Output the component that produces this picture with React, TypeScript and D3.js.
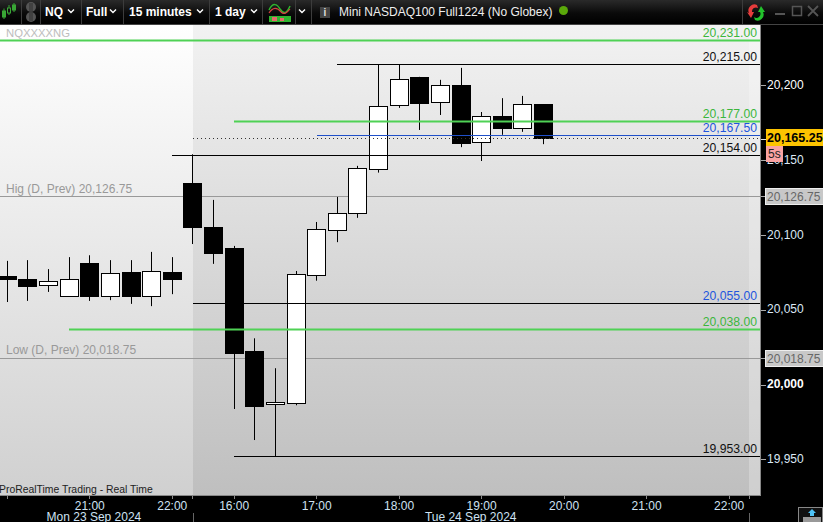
import React from "react";
import * as d3 from "d3";

const W = 823, H = 522;
const plot = { left: 0, right: 760, top: 25, bottom: 495 };

const opens = [20073.5,20071,20067,20060.25,20081.75,20060.25,20075.75,20060.25,20076,20135.75,20105.75,20091.75,20023.5,19987.5,19988.25,20073.75,20104,20115.5,20144.75,20187.5,20206,20189.5,20200.75,20162.75,20180.5,20172.5,20188];
const closes = [20071,20066.75,20070,20071,20060.25,20075.5,20060.25,20076.75,20071.5,20105.75,20089,20022,19986.75,19989.25,20074.75,20104.5,20115.5,20145.75,20187.25,20204.75,20188.75,20200.75,20162,20180.5,20172.5,20188,20165.25];
const highs = [20083.75,20084.25,20078.25,20086.25,20087.5,20084.25,20084.25,20089.75,20086.25,20155,20124.5,20093.75,20032,20012,20077,20109.75,20126.5,20147.25,20215,20215,20206.75,20204.75,20212.75,20183.25,20192.5,20194,20188.5];
const lows = [20056.25,20057,20063,20063,20057,20057.5,20055,20053.5,20061.5,20095,20081.75,19984.75,19964,19953,19987.25,20070.5,20096.25,20112.5,20142.75,20186,20171.25,20181.25,20159.75,20150.5,20168,20170,20161.75];

const tickPrices = [20200, 20150, 20100, 20050, 20000, 19950];
const boldTicks = [20200, 20000];
const timeTicks = [
  { i: 4, label: "21:00" }, { i: 8, label: "22:00" }, { i: 11, label: "16:00" },
  { i: 15, label: "17:00" }, { i: 19, label: "18:00" }, { i: 23, label: "19:00" },
  { i: 27, label: "20:00" }, { i: 31, label: "21:00" }, { i: 35, label: "22:00" },
];
const minorTicks = [0, 9, 36];
const dateLabels = [{ i: 4.2, label: "Mon 23 Sep 2024" }, { i: 22.47, label: "Tue 24 Sep 2024" }];

const levelPrices = [20231, 20215, 20177, 20167.5, 20154, 20055, 20038, 19953];
const levelLabels = ["20,231.00", "20,215.00", "20,177.00", "20,167.50", "20,154.00", "20,055.00", "20,038.00", "19,953.00"];
const levelStart = [-0.35, 16, 11, 15, 8, 9, 3, 11];
const levelKind = ["green", "black", "green", "blue", "black", "black", "green", "black"];
const labelKind = ["green", "black", "green", "blue", "black", "blue", "green", "black"];

const prevPrices = [20126.75, 20018.75];
const prevLabels = ["Hig (D, Prev) 20,126.75", "Low (D, Prev) 20,018.75"];
const lastPrice = 20165.25;

const y = d3.scaleLinear().domain([20215, 19953]).range([64.5, 456.5]);
const x = d3.scaleLinear().domain([0, 26]).range([7.3, 543.5]);
const sessionX = 193;

const lineCol: Record<string, string> = { green: "#4fd155", black: "#000", blue: "#1f4fc8" };
const txtCol: Record<string, string> = { green: "#3cb63c", black: "#111", blue: "#2255dd" };
const sans = "'Liberation Sans', Arial, sans-serif";
const fmt = d3.format(",");
const fmt2 = d3.format(",.2f");
const snap = (v: number) => Math.floor(v) + 0.5;

const toolbarSeps = [21, 40, 81, 123, 209, 262, 295, 311, 742];
const toolbarTexts = [
  { x: 45, t: "NQ" }, { x: 86, t: "Full" }, { x: 129, t: "15 minutes" }, { x: 215, t: "1 day" },
];
const chevrons = [71, 113, 200, 254, 302];

export default function App() {
  return (
    <svg width={W} height={H} viewBox={`0 0 ${W} ${H}`} style={{ position: "absolute", left: 0, top: 0, background: "#000", fontFamily: sans }}>
      <defs>
        <linearGradient id="bgL" x1="0" y1="0" x2="0" y2="1">
          <stop offset="0" stopColor="#ffffff" /><stop offset="1" stopColor="#d0d0d0" />
        </linearGradient>
        <linearGradient id="bgR" x1="0" y1="0" x2="0" y2="1">
          <stop offset="0" stopColor="#f2f2f2" /><stop offset="1" stopColor="#bfbfbf" />
        </linearGradient>
        <linearGradient id="tb" x1="0" y1="0" x2="0" y2="1">
          <stop offset="0" stopColor="#2a2a2a" /><stop offset="0.55" stopColor="#0a0a0a" /><stop offset="1" stopColor="#000" />
        </linearGradient>
      </defs>

      {/* plot background */}
      <rect x={0} y={plot.top} width={sessionX} height={plot.bottom - plot.top} fill="url(#bgL)" />
      <rect x={sessionX} y={plot.top} width={plot.right - sessionX} height={plot.bottom - plot.top} fill="url(#bgR)" />
      <rect x={749} y={plot.top} width={11} height={plot.bottom - plot.top} fill="#fff" opacity={0.25} />
      <rect x={760} y={plot.top} width={1} height={plot.bottom - plot.top + 1} fill="#888" />
      <rect x={0} y={plot.bottom} width={761} height={1} fill="#888" />

      {/* toolbar */}
      <rect x={0} y={0} width={W} height={24} fill="url(#tb)" />
      <rect x={0} y={24} width={W} height={1} fill="#444" />
      {toolbarSeps.map((s) => <rect key={s} x={s} y={0} width={1} height={24} fill="#3c3c3c" />)}
      <g stroke="#39a635" fill="#39a635" strokeWidth={1}>
        <path d="M4 8.5V19M9 5V15M14 3V12" fill="none" />
        <rect x={2.5} y={11} width={3} height={6} />
        <rect x={7.5} y={8} width={3} height={5} fill="#111" />
        <rect x={12.5} y={5} width={3} height={5} />
      </g>
      <circle cx={31} cy={7} r={5} fill="#555" /><circle cx={31} cy={17} r={5} fill="#555" />
      <rect x={29} y={3} width={4} height={18} fill="#333" opacity={0.6} />
      {toolbarTexts.map((d) => (
        <text key={d.t} x={d.x} y={15.5} fill="#fff" fontSize={12} fontWeight={700}>{d.t}</text>
      ))}
      {chevrons.map((c) => (
        <path key={c} d={`M${c - 3} 9.5L${c} 12.5L${c + 3} 9.5`} stroke="#fff" strokeWidth={1.4} fill="none" />
      ))}
      <path d="M269 10C273 2 277 4 280 9C284 15 287 13 290 6" stroke="#2fb52f" strokeWidth={1.5} fill="none" />
      <path d="M269 13C273 7 277 7 281 12C284 15 287 13 290 9" stroke="#d84040" strokeWidth={1.2} fill="none" />
      <g fill="#2fb52f">
        <rect x={269} y={16} width={22} height={6} />
      </g>
      <rect x={272} y={17} width={5} height={4} fill="#e56a6a" /><rect x={280} y={18} width={4} height={3} fill="#e56a6a" />
      <rect x={320} y={7} width={10} height={11} fill="#444" />
      <text x={325} y={16} fill="#ddd" fontSize={10} fontWeight={700} textAnchor="middle">i</text>
      <text x={339} y={15.5} fill="#eee" fontSize={12}>Mini NASDAQ100 Full1224 (No Globex)</text>
      <circle cx={563.5} cy={10.5} r={4.5} fill="#5aa80a" />
      <path d="M757 5A6 6 0 0 0 749 13L747 12L751 18L754 12L752 12A4 4 0 0 1 758 8Z" fill="#e63c3c" />
      <path d="M755 20A6 6 0 0 0 763 12L765 12L761 6L758 12L760 12A4 4 0 0 1 754 17Z" fill="#22c22c" />
      <rect x={775} y={13} width={10} height={2} fill="#555" />
      <rect x={792.5} y={6.5} width={9} height={9} fill="none" stroke="#555" strokeWidth={1.5} />
      <path d="M808 6L818 16M818 6L808 16" stroke="#555" strokeWidth={1.8} />

      {/* instrument tag */}
      <text x={6} y={37} fill="#bdbdbd" fontSize={11.3}>NQXXXXNG</text>

      {/* previous-day levels */}
      {prevPrices.map((p, i) => (
        <g key={p}>
          <line x1={0} x2={plot.right} y1={snap(y(p))} y2={snap(y(p))} stroke="#999" />
          <text x={6} y={y(p) - 4} fill="#999" fontSize={12}>{prevLabels[i]}</text>
        </g>
      ))}

      {/* candles */}
      {opens.map((o, i) => {
        const c = closes[i];
        const up = c >= o;
        const cx = Math.floor(x(i));
        const top = Math.floor(y(Math.max(o, c)));
        const bot = Math.floor(y(Math.min(o, c)));
        return (
          <g key={i}>
            <line x1={cx + 0.5} x2={cx + 0.5} y1={y(highs[i])} y2={y(lows[i])} stroke="#000" />
            <rect x={cx - 8.5} y={top + 0.5} width={18} height={Math.max(bot - top, 1)} fill={up ? "#fff" : "#000"} stroke="#000" />
          </g>
        );
      })}

      {/* horizontal levels */}
      <line x1={sessionX} x2={plot.right} y1={snap(y(lastPrice))} y2={snap(y(lastPrice))} stroke="#333" strokeDasharray="1 3" />
      {levelPrices.map((p, i) => {
        const yy = snap(y(p));
        const x0 = levelStart[i] < 0 ? 0 : x(levelStart[i]);
        return (
          <g key={p}>
            <line x1={Math.round(x0)} x2={plot.right} y1={yy} y2={yy} stroke={lineCol[levelKind[i]]} strokeWidth={levelKind[i] === "green" ? 2 : 1} />
            <text x={757} y={yy - 4} textAnchor="end" fill={txtCol[labelKind[i]]} fontSize={12.2}>{levelLabels[i]}</text>
          </g>
        );
      })}

      {/* price axis */}
      {tickPrices.map((t) => (
        <g key={t}>
          <line x1={761} x2={766} y1={snap(y(t)) - 1} y2={snap(y(t)) - 1} stroke="#aaa" />
          <text x={767} y={y(t) + 2} fill={boldTicks.includes(t) ? "#fff" : "#dbe8f5"} fontSize={12} fontWeight={t === 20000 ? 700 : 400}>{fmt(t)}</text>
        </g>
      ))}
      {prevPrices.map((p) => (
        <g key={p}>
          <line x1={761} x2={766} y1={snap(y(p))} y2={snap(y(p))} stroke="#aaa" />
          <rect x={765.5} y={snap(y(p)) - 8} width={60} height={16} fill="#c8c8c8" stroke="#eee" />
          <text x={767} y={y(p) + 4.5} fill="#666" fontSize={12}>{fmt2(p)}</text>
        </g>
      ))}
      <line x1={761} x2={766} y1={snap(y(lastPrice)) + 1} y2={snap(y(lastPrice)) + 1} stroke="#ddd" />
      <rect x={766} y={129} width={57} height={17} fill="#fdc400" />
      <text x={767} y={142} fill="#000" fontSize={12.5} fontWeight={700}>{fmt2(lastPrice)}</text>
      <rect x={766} y={146} width={17} height={16} fill="#f9a3a3" />
      <text x={768} y={158} fill="#222" fontSize={12}>5s</text>

      {/* time axis */}
      {minorTicks.map((i) => (
        <line key={i} x1={snap(x(i))} x2={snap(x(i))} y1={496} y2={499} stroke="#888" />
      ))}
      {timeTicks.map((d) => (
        <g key={d.i}>
          <line x1={snap(x(d.i))} x2={snap(x(d.i))} y1={496} y2={499} stroke="#888" />
          <text x={x(d.i)} y={510} textAnchor="middle" fill="#cfe2f3" fontSize={12}>{d.label}</text>
        </g>
      ))}
      {dateLabels.map((d) => (
        <text key={d.label} x={x(d.i)} y={521} textAnchor="middle" fill="#cfe2f3" fontSize={12}>{d.label}</text>
      ))}
      <line x1={193.5} x2={193.5} y1={513} y2={522} stroke="#666" />
      <line x1={749.5} x2={749.5} y1={513} y2={522} stroke="#666" />

      <text x={-1} y={493} fill="#222" fontSize={10.4}>ProRealTime Trading - Real Time</text>

      {/* bottom-right keyboard icon */}
      <rect x={798.5} y={507.5} width={24} height={15} fill="#111" stroke="#888" />
      <path d="M812 509L816 513H814V516H810V513H808Z" fill="#4fc3f7" />
      <rect x={803} y={517} width={18} height={5} fill="#999" />
    </svg>
  );
}
